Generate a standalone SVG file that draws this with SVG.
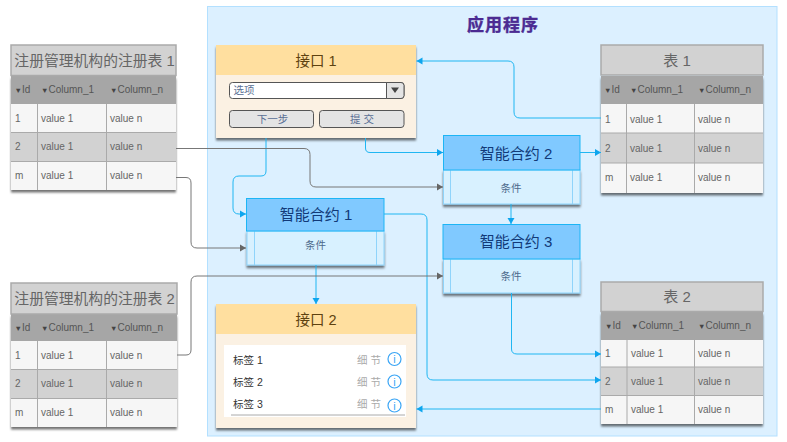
<svg xmlns="http://www.w3.org/2000/svg" width="787" height="442" viewBox="0 0 787 442">
<style>
text{font-family:"Liberation Sans","Noto Sans CJK SC",sans-serif}
.ttl{font-size:15px;fill:#666;text-anchor:middle}
.hd{fill:#a6a6a6}
.hdt{font-size:10px;fill:#555}
.tri{font-size:7.5px;fill:#444}
.cell{font-size:10px;fill:#666}
.tb{fill:#d2d2d2;stroke:#aaa;stroke-width:1.5}
.r1{fill:#f6f6f6}.r2{fill:#d2d2d2}
.ln{stroke:#aaa;stroke-width:1;fill:none}
.sch{fill:#80c9ff;stroke:#1db5f5;stroke-width:1}
.scb{fill:#d8f1ff;stroke:#8fd4fb;stroke-width:1}
.sct{font-size:15px;fill:#123a78;text-anchor:middle}
.cond{font-size:10.500px;fill:#4d6a8c;text-anchor:middle}
.uih{fill:#ffdf9f}
.uib{fill:#fbf1e3}
.uit{font-size:14.500px;fill:#5e4210;text-anchor:middle}
.btn{fill:#e4e4e4;stroke:#555;stroke-width:1}
.btt{font-size:10.500px;fill:#5a6f94;text-anchor:middle}
.lab{font-size:10.500px;fill:#333}
.det{font-size:10.500px;fill:#aaa}
.inf{fill:#fff;stroke:#3aa5f5;stroke-width:1.200}
.inft{font-size:11px;fill:#3aa5f5;text-anchor:middle}
.cb{fill:none;stroke:#1fb6f2;stroke-width:1;marker-end:url(#ab)}
.cg{fill:none;stroke:#777;stroke-width:1;marker-end:url(#ag)}
</style>
<defs>
<filter id="sh" x="-10%" y="-10%" width="120%" height="125%"><feDropShadow dx="0" dy="2.500" stdDeviation="1.200" flood-color="#000" flood-opacity="0.55"/></filter>
<marker id="ab" markerUnits="userSpaceOnUse" markerWidth="7" markerHeight="8" refX="6" refY="4" orient="auto"><path d="M0 0.500L6 4L0 7.500z" fill="#0ea5ee"/></marker>
<marker id="ag" markerUnits="userSpaceOnUse" markerWidth="7" markerHeight="8" refX="6" refY="4" orient="auto"><path d="M0 0.500L6 4L0 7.500z" fill="#666"/></marker>
</defs>
<rect id="bg" width="787" height="442" fill="#fff"/>
<g id="app"><rect x="207.500" y="6.500" width="569.500" height="429.500" fill="#dcf0ff" stroke="#b3e0ff" stroke-width="1"/>
<text x="503" y="31" text-anchor="middle" font-size="17" font-weight="bold" fill="#4b2a92" stroke="#4b2a92" stroke-width="0.400" letter-spacing="1">应用程序</text></g>

<g id="reg1">
<g filter="url(#sh)"><rect class="r1" x="11" y="104" width="165" height="86"/><rect class="hd" x="11" y="76" width="165" height="28"/><rect class="r2" x="11" y="132.500" width="165" height="29"/></g>
<rect class="tb" x="11" y="45" width="165" height="30.500"/>
<text x="94.500" y="66" class="ttl" style="font-size:14.800px">注册管理机构的注册表 1</text>
<path class="ln" d="M37.500 104V190M106.500 104V190M11 132.500H176M11 161.500H176"/>
<g class="hdt"><text x="14.500" y="93"><tspan class="tri">▼</tspan>Id</text><text x="41" y="93"><tspan class="tri">▼</tspan>Column_1</text><text x="110" y="93"><tspan class="tri">▼</tspan>Column_n</text></g>
<g class="cell"><text x="15" y="121.500">1</text><text x="41" y="121.500">value 1</text><text x="110" y="121.500">value n</text>
<text x="15" y="150">2</text><text x="41" y="150">value 1</text><text x="110" y="150">value n</text>
<text x="15" y="179">m</text><text x="41" y="179">value 1</text><text x="110" y="179">value n</text></g>
</g>

<g id="reg2">
<g filter="url(#sh)"><rect class="r1" x="11" y="341" width="166" height="86"/><rect class="hd" x="11" y="314" width="166" height="27"/><rect class="r2" x="11" y="369.500" width="166" height="29"/></g>
<rect class="tb" x="11" y="283" width="166" height="31"/>
<text x="94.500" y="304" class="ttl" style="font-size:14.800px">注册管理机构的注册表 2</text>
<path class="ln" d="M37.500 341V427M106.500 341V427M11 369.500H177M11 398.500H177"/>
<g class="hdt"><text x="14.500" y="330.500"><tspan class="tri">▼</tspan>Id</text><text x="41" y="330.500"><tspan class="tri">▼</tspan>Column_1</text><text x="110" y="330.500"><tspan class="tri">▼</tspan>Column_n</text></g>
<g class="cell"><text x="15" y="358.500">1</text><text x="41" y="358.500">value 1</text><text x="110" y="358.500">value n</text>
<text x="15" y="387">2</text><text x="41" y="387">value 1</text><text x="110" y="387">value n</text>
<text x="15" y="416">m</text><text x="41" y="416">value 1</text><text x="110" y="416">value n</text></g>
</g>

<g id="tbl1">
<g filter="url(#sh)"><rect class="r1" x="601" y="104" width="162" height="89"/><rect class="hd" x="601" y="76" width="162" height="28"/><rect class="r2" x="601" y="133" width="162" height="30"/></g>
<rect class="tb" x="601" y="45" width="162" height="30"/>
<text x="677" y="66" class="ttl">表 1</text>
<path class="ln" d="M626.500 104V193M694.500 104V193M601 133H763M601 163H763"/>
<g class="hdt"><text x="604" y="93"><tspan class="tri">▼</tspan>Id</text><text x="630" y="93"><tspan class="tri">▼</tspan>Column_1</text><text x="698" y="93"><tspan class="tri">▼</tspan>Column_n</text></g>
<g class="cell"><text x="605" y="122.500">1</text><text x="630" y="122.500">value 1</text><text x="698" y="122.500">value n</text>
<text x="605" y="151.500">2</text><text x="630" y="151.500">value 1</text><text x="698" y="151.500">value n</text>
<text x="605" y="181">m</text><text x="630" y="181">value 1</text><text x="698" y="181">value n</text></g>
</g>

<g id="tbl2">
<g filter="url(#sh)"><rect class="r1" x="601" y="340" width="162" height="84"/><rect class="hd" x="601" y="312" width="162" height="28"/><rect class="r2" x="601" y="367" width="162" height="28.500"/></g>
<rect class="tb" x="601" y="282" width="162" height="29.500"/>
<text x="677" y="302" class="ttl">表 2</text>
<path class="ln" d="M627 340V424M694.500 340V424M601 367H763M601 395.500H763"/>
<g class="hdt"><text x="605" y="329"><tspan class="tri">▼</tspan>Id</text><text x="631" y="329"><tspan class="tri">▼</tspan>Column_1</text><text x="698" y="329"><tspan class="tri">▼</tspan>Column_n</text></g>
<g class="cell"><text x="605" y="357">1</text><text x="631" y="357">value 1</text><text x="698" y="357">value n</text>
<text x="605" y="384.500">2</text><text x="631" y="384.500">value 1</text><text x="698" y="384.500">value n</text>
<text x="605" y="412.500">m</text><text x="631" y="412.500">value 1</text><text x="698" y="412.500">value n</text></g>
</g>

<g id="ui1">
<rect class="uib" x="216" y="45" width="200" height="93" filter="url(#sh)"/><rect class="uih" x="216" y="45" width="200" height="30"/>
<text x="316" y="66" class="uit">接口 1</text>
<rect x="229.500" y="82.500" width="174.500" height="16" rx="3" fill="#fff" stroke="#555"/>
<path d="M386.500 82.500H401a3 3 0 0 1 3 3V95.500a3 3 0 0 1-3 3H386.500z" fill="#e4e4e4" stroke="#555"/>
<path d="M391 87.500H399L395 93z" fill="#444"/>
<text x="233.500" y="94" font-size="10.500" fill="#5a6f94">选项</text>
<rect class="btn" x="229.500" y="110.500" width="84" height="17" rx="3"/><rect class="btn" x="319.500" y="110.500" width="84.500" height="17" rx="3"/>
<text x="272.500" y="122.500" class="btt">下一步</text><text x="362" y="122.500" class="btt">提 交</text>
</g>

<g id="ui2">
<rect class="uib" x="216" y="304" width="200" height="124" filter="url(#sh)"/><rect class="uih" x="216" y="304" width="200" height="30"/>
<text x="316" y="324.500" class="uit">接口 2</text>
<rect x="224" y="345" width="182" height="72" fill="#fff"/>
<path d="M231 415H405" stroke="#aaa" fill="none"/>
<text x="233" y="363.500" class="lab">标签 1</text><text x="233" y="385.500" class="lab">标签 2</text><text x="233" y="407.500" class="lab">标签 3</text>
<text x="357" y="363.500" class="det">细 节</text><text x="357" y="385.500" class="det">细 节</text><text x="357" y="407.500" class="det">细 节</text>
<circle class="inf" cx="394.500" cy="359" r="6.500"/><circle class="inf" cx="394.500" cy="381.500" r="6.500"/><circle class="inf" cx="394.500" cy="405.500" r="6.500"/>
<text x="394.500" y="363" class="inft">i</text><text x="394.500" y="385.500" class="inft">i</text><text x="394.500" y="409.500" class="inft">i</text>
</g>

<g id="sc1">
<rect class="scb" x="247" y="231" width="137" height="34" filter="url(#sh)"/><path class="scb" d="M254.500 231V265M376.500 231V265"/><rect class="sch" x="246.500" y="198.500" width="137.500" height="32.500"/>
<text x="316" y="220" class="sct">智能合约 1</text><text x="315.500" y="249" class="cond">条件</text>
</g>
<g id="sc2">
<rect class="scb" x="443.500" y="170" width="136.500" height="34" filter="url(#sh)"/><path class="scb" d="M450.500 170V204M572.500 170V204"/><rect class="sch" x="443.500" y="135.500" width="136.500" height="34.500"/>
<text x="516" y="158.500" class="sct">智能合约 2</text><text x="511" y="192" class="cond">条件</text>
</g>
<g id="sc3">
<rect class="scb" x="443.500" y="259" width="136.500" height="34" filter="url(#sh)"/><path class="scb" d="M450.500 259V293M572.500 259V293"/><rect class="sch" x="443" y="224.500" width="137" height="34.500"/>
<text x="516" y="246.500" class="sct">智能合约 3</text><text x="511" y="280" class="cond">条件</text>
</g>

<g id="connectors">
<path class="cb" d="M601 118H520Q514 118 514 112V67Q514 61 508 61H416.500"/>
<path class="cb" d="M266 138V171Q266 176 261 176H239Q233 176 233 182V208Q233 214 239 214H246"/>
<path class="cb" d="M365.500 138V148Q365.500 152.500 370 152.500H443"/>
<path class="cb" d="M580 152.500H601"/>
<path class="cb" d="M511 204V224"/>
<path class="cb" d="M384 214H421Q427 214 427 220V374Q427 380 433 380H601"/>
<path class="cb" d="M316 265V304"/>
<path class="cb" d="M511.500 293V349Q511.500 354 517 354H601"/>
<path class="cb" d="M601 409H416.500"/>
<path class="cg" d="M176 148.500H304Q310 148.500 310 154.500V181Q310 187 316 187H443"/>
<path class="cg" d="M176 177.500H186Q191 177.500 191 183V242Q191 248 197 248H246"/>
<path class="cg" d="M177 355H186Q191 355 191 350V282Q191 276 197 276H443"/>
</g>
</svg>
